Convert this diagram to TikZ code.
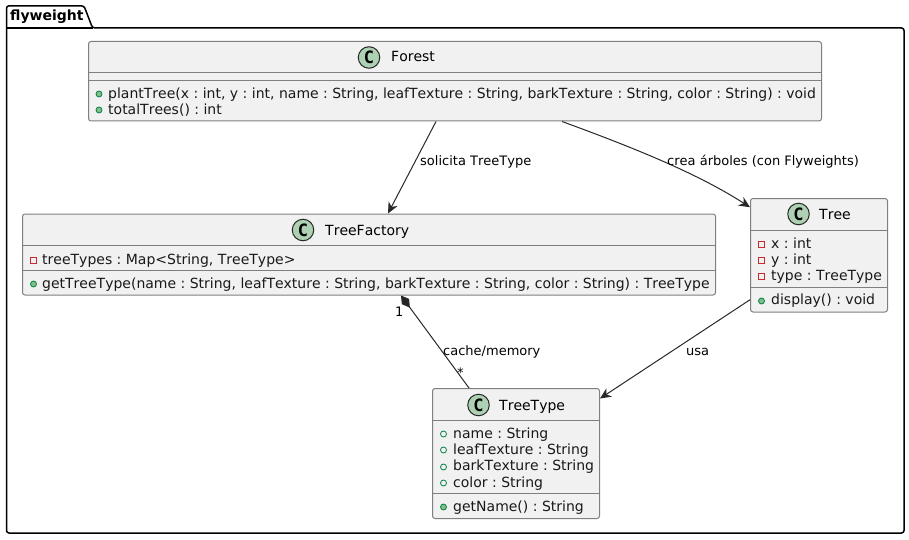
\documentclass[tikz,border=0pt]{standalone}
\usepackage{fontspec}
\setmainfont[Kerning=Off]{DejaVu Sans}
\setmonofont{DejaVu Sans Mono}
\usetikzlibrary{arrows.meta}
\definecolor{fondo}{RGB}{241, 241, 241}
\definecolor{borde}{RGB}{127, 127, 127}
\definecolor{linea}{RGB}{40, 40, 40}
\definecolor{letraC}{RGB}{173, 209, 178}
\definecolor{verde}{RGB}{3, 128, 72}
\definecolor{verdeC}{RGB}{132, 190, 132}
\definecolor{rojo}{RGB}{200, 41, 48}
\tikzset{
  clase/.style={draw=borde, fill=fondo, line width=1pt, rounded corners=2.5pt, inner sep=0pt},
  divisor/.style={draw=borde, line width=1pt},
  icono/.style={circle, draw=linea, fill=letraC, line width=1pt, minimum size=21.5pt, inner sep=0pt, font=\fontsize{17}{17}\selectfont\ttfamily\bfseries},
  titulo/.style={anchor=base west, inner sep=0pt, text=black, font=\frenchspacing\fontsize{14}{14}\selectfont},
  miembro/.style={anchor=base west, inner sep=0pt, text=black!90, font=\frenchspacing\fontsize{14}{14}\selectfont},
  etiqueta/.style={anchor=base west, inner sep=0pt, text=black, font=\frenchspacing\fontsize{13}{13}\selectfont},
  metodo/.style={circle, draw=verde, fill=verdeC, line width=.8pt, minimum size=6pt, inner sep=0pt},
  campo/.style={circle, draw=verde, fill=fondo, line width=.8pt, minimum size=6pt, inner sep=0pt},
  privado/.style={rectangle, draw=rojo, fill=fondo, line width=.8pt, minimum size=6pt, inner sep=0pt},
  flecha/.style={draw=linea, line width=1pt, -{Stealth[length=11pt, width=10pt, inset=3.5pt]}},
  rombo/.style={draw=linea, line width=1pt, {Diamond[length=15pt, width=9pt, fill=black!85]}-}
}
\begin{document}
\begin{tikzpicture}[x=1pt, y=-1pt]
  \useasboundingbox (0,0) rectangle (909,540);

  %Paquete flyweight
  \draw[line width=1.5pt, black, rounded corners=2.5pt] (6.5,28) -- (6.5,5.8) -- (84,5.8) -- (92.5,28) -- (904,28) -- (904,533) -- (6.5,533) -- cycle;
  \draw[line width=1.5pt, black] (6.5,28) -- (92.5,28);
  \node[anchor=base west, inner sep=0pt, font=\fontsize{14}{14}\selectfont\bfseries] (paquete) at (10,21) {flyweight};

  %Clase Forest
  \node[clase, minimum width=733pt, minimum height=79.5pt] (forest) at (455,81.25) {};
  \draw[divisor] ([yshift=-32pt]forest.north west) -- ([yshift=-32pt]forest.north east);
  \draw[divisor] ([yshift=-39.5pt]forest.north west) -- ([yshift=-39.5pt]forest.north east);
  \node[icono] (forestC) at (369,57.5) {C};
  \node[titulo] (forestT) at (391,62) {Forest};
  \node[metodo] (forestI1) at (99,94) {};
  \node[miembro] (forestM1) at (108,99) {plantTree(x : int, y : int, name : String, leafTexture : String, barkTexture : String, color : String) : void};
  \node[metodo] (forestI2) at (99,110) {};
  \node[miembro] (forestM2) at (108,115) {totalTrees() : int};

  %Clase TreeFactory
  \node[clase, minimum width=693pt, minimum height=81pt] (factory) at (369,254.5) {};
  \draw[divisor] ([yshift=-32pt]factory.north west) -- ([yshift=-32pt]factory.north east);
  \draw[divisor] ([yshift=-57pt]factory.north west) -- ([yshift=-57pt]factory.north east);
  \node[icono] (factoryC) at (303,230) {C};
  \node[titulo] (factoryT) at (325,235) {TreeFactory};
  \node[privado] (factoryI1) at (33.5,260) {};
  \node[miembro] (factoryM1) at (42,264) {treeTypes : Map<String, TreeType>};
  \node[metodo] (factoryI2) at (33.5,284) {};
  \node[miembro] (factoryM2) at (42,288) {getTreeType(name : String, leafTexture : String, barkTexture : String, color : String) : TreeType};

  %Clase Tree
  \node[clase, minimum width=137pt, minimum height=113.5pt] (tree) at (819,255.25) {};
  \draw[divisor] ([yshift=-32pt]tree.north west) -- ([yshift=-32pt]tree.north east);
  \draw[divisor] ([yshift=-89pt]tree.north west) -- ([yshift=-89pt]tree.north east);
  \node[icono] (treeC) at (798.5,214) {C};
  \node[titulo] (treeT) at (819,219) {Tree};
  \node[privado] (treeI1) at (761.5,244.5) {};
  \node[miembro] (treeM1) at (771,248) {x : int};
  \node[privado] (treeI2) at (761.5,260.5) {};
  \node[miembro] (treeM2) at (771,264) {y : int};
  \node[privado] (treeI3) at (761.5,276.5) {};
  \node[miembro] (treeM3) at (771,280) {type : TreeType};
  \node[metodo] (treeI4) at (761.5,301) {};
  \node[miembro] (treeM4) at (771,304) {display() : void};

  %Clase TreeType
  \node[clase, minimum width=167pt, minimum height=130pt] (treetype) at (516,453.5) {};
  \draw[divisor] ([yshift=-32pt]treetype.north west) -- ([yshift=-32pt]treetype.north east);
  \draw[divisor] ([yshift=-105pt]treetype.north west) -- ([yshift=-105pt]treetype.north east);
  \node[icono] (treetypeC) at (478.5,405) {C};
  \node[titulo] (treetypeT) at (499,410) {TreeType};
  \node[campo] (treetypeI1) at (443.5,434) {};
  \node[miembro] (treetypeM1) at (453,438) {name : String};
  \node[campo] (treetypeI2) at (443.5,450) {};
  \node[miembro] (treetypeM2) at (453,454) {leafTexture : String};
  \node[campo] (treetypeI3) at (443.5,467) {};
  \node[miembro] (treetypeM3) at (453,470) {barkTexture : String};
  \node[campo] (treetypeI4) at (443.5,483) {};
  \node[miembro] (treetypeM4) at (453,487) {color : String};
  \node[metodo] (treetypeI5) at (443.5,507) {};
  \node[miembro] (treetypeM5) at (453,511) {getName() : String};

  %Relaciones
  \draw[flecha] ([xshift=-19pt]forest.south) -- ([xshift=19pt]factory.north);
  \draw[flecha] ([xshift=107pt]forest.south) .. controls (640,150) and (700,175) .. ([yshift=48pt]tree.west);
  \draw[rombo] ([xshift=32pt]factory.south) -- ([xshift=-47pt]treetype.north);
  \draw[flecha] ([yshift=-44.5pt]tree.west) -- ([yshift=55pt]treetype.east);

  %Etiquetas
  \node[etiqueta] (lblSolicita) at (420,165) {solicita TreeType};
  \node[etiqueta] (lblCrea) at (667,165) {crea árboles (con Flyweights)};
  \node[etiqueta] (lblCache) at (443,355) {cache/memory};
  \node[etiqueta] (lblUsa) at (686,355) {usa};
  \node[etiqueta] (lblUno) at (395,316) {1};
  \node[etiqueta] (lblMuchos) at (457,377) {*};
\end{tikzpicture}
\end{document}
